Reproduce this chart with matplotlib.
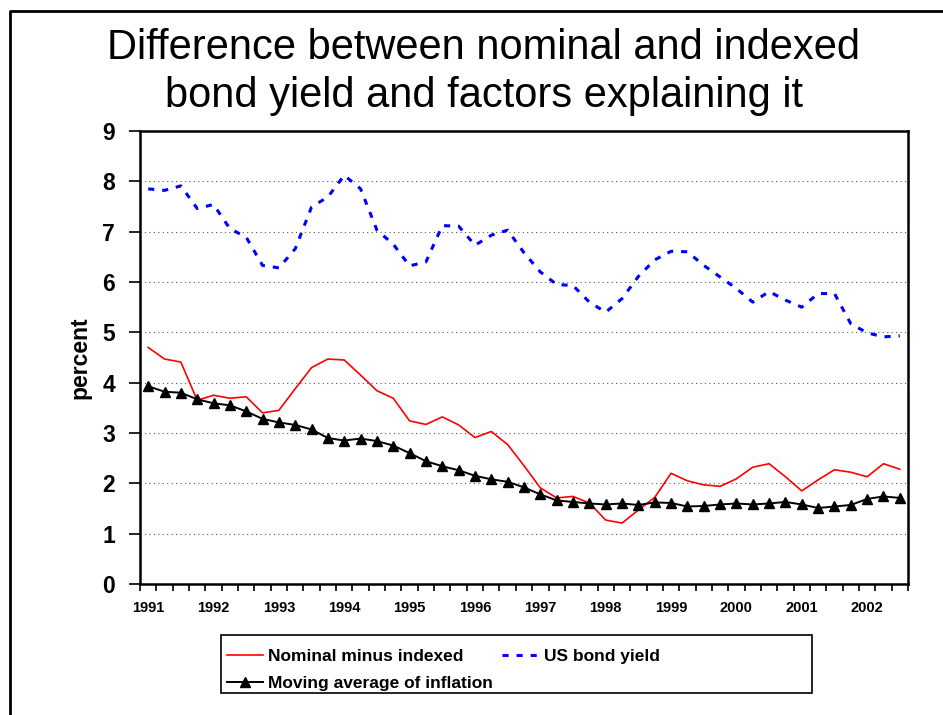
import numpy as np
import matplotlib.pyplot as plt
from matplotlib.lines import Line2D
from matplotlib.patches import Rectangle

plt.rcParams['font.family'] = ['Liberation Sans', 'DejaVu Sans']

# quarterly observations, 1991Q1 .. 2002Q3
years = ['1991', '1992', '1993', '1994', '1995', '1996',
         '1997', '1998', '1999', '2000', '2001', '2002']

us_bond_yield = [7.85, 7.82, 7.91, 7.46, 7.54, 7.06, 6.89, 6.33, 6.28, 6.66,
                 7.49, 7.69, 8.12, 7.85, 7.03, 6.75, 6.32, 6.40, 7.12, 7.11,
                 6.73, 6.93, 7.03, 6.58, 6.20, 5.95, 5.93, 5.60, 5.40, 5.67,
                 6.11, 6.44, 6.61, 6.60, 6.33, 6.10, 5.87, 5.60, 5.81, 5.64,
                 5.50, 5.77, 5.77, 5.17, 4.99, 4.91, 4.93]

nominal_minus_indexed = [4.70, 4.47, 4.41, 3.65, 3.75, 3.69, 3.72, 3.40, 3.45, 3.88,
                         4.30, 4.47, 4.45, 4.15, 3.84, 3.69, 3.24, 3.17, 3.32, 3.16,
                         2.91, 3.03, 2.77, 2.35, 1.91, 1.71, 1.74, 1.61, 1.27, 1.21,
                         1.47, 1.72, 2.20, 2.05, 1.97, 1.94, 2.09, 2.32, 2.39, 2.13,
                         1.85, 2.07, 2.27, 2.22, 2.13, 2.39, 2.28]

inflation_ma = [3.93, 3.82, 3.80, 3.67, 3.59, 3.55, 3.43, 3.28, 3.21, 3.16,
                3.07, 2.90, 2.85, 2.89, 2.84, 2.75, 2.60, 2.44, 2.34, 2.26,
                2.15, 2.08, 2.03, 1.92, 1.78, 1.66, 1.63, 1.60, 1.58, 1.60,
                1.57, 1.62, 1.61, 1.54, 1.55, 1.58, 1.60, 1.58, 1.60, 1.63,
                1.58, 1.51, 1.54, 1.57, 1.69, 1.74, 1.71]

n = len(us_bond_yield)
x = np.arange(n)
W, H = 943, 715

fig = plt.figure(figsize=(9.43, 7.15), dpi=100)
ax = fig.add_axes([140 / W, 1 - 584 / H, 768 / W, 453 / H])

l_red, = ax.plot(x, nominal_minus_indexed, color='red', lw=1.2, label='Nominal minus indexed')
l_blue, = ax.plot(x, us_bond_yield, color='blue', lw=2.2, ls=(0, (2.0, 2.6)), label='US bond yield')
l_black, = ax.plot(x, inflation_ma, color='black', lw=1.4, marker='^', ms=7,
                   label='Moving average of inflation')

ax.set_xlim(-0.5, n - 0.5)
ax.set_ylim(0, 9)
ax.set_yticks(range(0, 10))
ax.set_yticklabels([str(v) for v in range(0, 10)], fontsize=16.5, fontweight='bold')
for v in range(1, 9):
    ax.axhline(v, color='#555555', lw=0.8, ls=(0, (1, 3)), zorder=0)

# category boundaries as tick marks, year labels on the first quarter
ax.set_xticks(np.arange(-0.5, n, 1.0))
ax.set_xticklabels([])
ax.set_xticks(np.arange(0, n, 4), minor=True)
ax.set_xticklabels(years, minor=True, fontsize=10.5, fontweight='bold')
ax.tick_params(axis='x', which='major', direction='out', length=5, width=1.2)
ax.tick_params(axis='x', which='minor', length=0, pad=12)
ax.tick_params(axis='y', direction='out', length=8, width=1.2, pad=10)

for s in ax.spines.values():
    s.set_linewidth(1.8)

ax.set_ylabel('percent', fontsize=16.5, fontweight='bold', labelpad=8)

fig.text(0.513, 1 - 72 / H, 'Difference between nominal and indexed\nbond yield and factors explaining it',
         ha='center', va='center', fontsize=30, linespacing=1.25)

# legend box drawn separately, items placed inside it
fig.add_artist(Rectangle((221 / W, 1 - 693 / H), 591 / W, 58 / H, transform=fig.transFigure,
                         facecolor='white', edgecolor='black', lw=1.2))
leg = fig.legend(handles=[l_red, l_black, l_blue], ncol=2, loc='upper left',
                 bbox_to_anchor=(218 / W, 1 - 640 / H), frameon=False,
                 prop={'weight': 'bold', 'size': 12.5},
                 handlelength=2.1, handletextpad=0.3, columnspacing=0.5, borderpad=0,
                 labelspacing=0.72)

# partial slide frame
fig.add_artist(Line2D([10 / W, 10 / W, 1.0], [0, 1 - 11 / H, 1 - 11 / H],
                      transform=fig.transFigure, color='black', lw=2))

fig.savefig('out.png', dpi=100)
